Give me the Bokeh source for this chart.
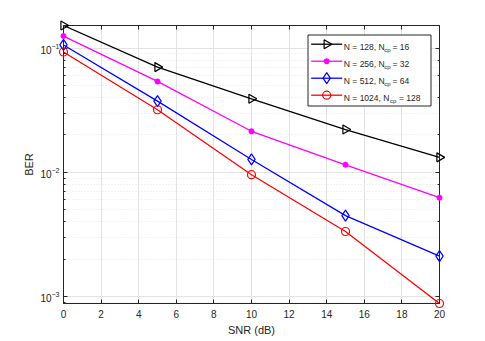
import math
from bokeh.plotting import figure
from bokeh.models import (Range1d, FixedTicker, LinearAxis, LogAxis, Label, CustomJSTickFormatter)
from bokeh.embed import file_html
from bokeh.resources import INLINE

snr = [0, 5, 10, 15, 20]
ber_128 = [0.152, 0.0703, 0.0391, 0.0221, 0.0132]
ber_256 = [0.125, 0.0539, 0.0214, 0.0115, 0.00625]
ber_512 = [0.106, 0.0374, 0.0127, 0.00448, 0.00212]
ber_1024 = [0.093, 0.0319, 0.00957, 0.00334, 0.00088]
x_ticks = [0, 2, 4, 6, 8, 10, 12, 14, 16, 18, 20]
legend_main = ["N = 128, N", "N = 256, N", "N = 512, N", "N = 1024, N"]
legend_sub = ["cp", "cp", "cp", "cp"]
legend_tail = ["= 16", "= 32", "= 64", "= 128"]

FONT = "Liberation Sans"
AX = "#262626"
X0, X1, Y0, Y1 = 0, 20, 0.00088, 0.152
FW, FH = 376, 278

p = figure(frame_width=FW, frame_height=FH, y_axis_type="log",
           x_range=Range1d(X0, X1), y_range=Range1d(Y0, Y1),
           output_backend="svg", toolbar_location=None,
           min_border_left=63, min_border_top=25, min_border_right=30, min_border_bottom=10)
p.background_fill_color = "white"
p.border_fill_color = "white"
p.outline_line_color = AX

# axes
p.xaxis.ticker = FixedTicker(ticks=x_ticks)
for ax in p.xaxis + p.yaxis:
    ax.axis_line_color = AX
    ax.major_tick_line_color = AX
    ax.minor_tick_line_color = AX
    ax.major_tick_in = 4
    ax.major_tick_out = 0
    ax.minor_tick_in = 2
    ax.minor_tick_out = 0
    ax.major_label_text_font = FONT
    ax.major_label_text_font_size = "10px"
    ax.major_label_text_color = AX
    ax.axis_label_text_font = FONT
    ax.axis_label_text_font_size = "11px"
    ax.axis_label_text_font_style = "normal"
    ax.axis_label_text_color = AX
p.xaxis.minor_tick_line_color = None
p.xaxis.axis_label = "SNR (dB)"
p.yaxis.axis_label = "BER"
p.xaxis.major_label_standoff = 6
p.xaxis.axis_label_standoff = 3
p.yaxis.major_label_standoff = 4
p.yaxis.axis_label_standoff = 2

top = LinearAxis(ticker=FixedTicker(ticks=x_ticks), formatter=CustomJSTickFormatter(code="return ''"))
right = LogAxis(formatter=CustomJSTickFormatter(code="return ''"))
for ax in (top, right):
    ax.axis_line_color = AX
    ax.major_tick_line_color = AX
    ax.minor_tick_line_color = AX
    ax.major_tick_in = 4
    ax.major_tick_out = 0
    ax.minor_tick_in = 2
    ax.minor_tick_out = 0
    ax.major_label_standoff = 0
top.minor_tick_line_color = None
p.add_layout(top, "above")
p.add_layout(right, "right")

# grids
p.xgrid.grid_line_color = "#e3e3e3"
p.ygrid.grid_line_color = "#e3e3e3"
p.ygrid.minor_grid_line_color = "#e6e6e6"
p.ygrid.minor_grid_line_dash = "1 2"


def px_to_data(px, py):
    """page pixel -> data coordinates (frame: left 63, top 25)"""
    fx = (px - 63) / FW
    fy = (py - 25) / FH
    x = X0 + fx * (X1 - X0)
    ly = math.log10(Y1) - fy * (math.log10(Y1) - math.log10(Y0))
    return x, 10 ** ly


series = [
    (ber_128, "black", "triangle", -math.pi / 2, 9, 1.2),
    (ber_256, "#ff00ff", "asterisk", 0, 6, 1.8),
    (ber_512, "#0000ff", "diamond", 0, 11, 1.2),
    (ber_1024, "#ff0000", "circle", 0, 8, 1.2),
]
for ys, col, mk, ang, sz, lw in series:
    p.line(snr, ys, line_color=col, line_width=1.3)
    fill = col if mk == "asterisk" else None
    p.scatter(snr, ys, marker=mk, size=sz, angle=ang, line_color=col,
              fill_color=fill, line_width=lw, level="overlay")

# legend box (drawn as glyphs so that its samples sit on top)
bl, bt = px_to_data(307.5, 34.5)
br, bb = px_to_data(430.5, 105.5)
p.quad(left=[bl], right=[br], top=[bt], bottom=[bb], fill_color="white",
       line_color=AX, line_width=1, level="overlay")

row_y = [43.7, 60.7, 77.7, 94.7]
sub_x = [383.7, 383.7, 383.7, 389.6]
tail_x = [392.0, 392.0, 392.0, 398.5]
for i, (ys, col, mk, ang, sz, lw) in enumerate(series):
    fill = col if mk == "asterisk" else None
    lx0, ly = px_to_data(310.7, row_y[i])
    lx1, _ = px_to_data(341.7, row_y[i])
    mx, _ = px_to_data(326.2, row_y[i])
    p.line([lx0, lx1], [ly, ly], line_color=col, line_width=1.3, level="overlay")
    p.scatter([mx], [ly], marker=mk, size=sz, angle=ang, line_color=col,
              fill_color=fill, line_width=lw, level="overlay")
    base = row_y[i] + 3.2
    x, y = px_to_data(343.3, base)
    p.add_layout(Label(x=x, y=y, text=legend_main[i], text_font=FONT, text_font_size="8.5px",
                       text_color=AX, text_baseline="alphabetic", level="overlay"))
    x, y = px_to_data(sub_x[i], base + 2.5)
    p.add_layout(Label(x=x, y=y, text=legend_sub[i], text_font=FONT, text_font_size="6px",
                       text_color=AX, text_baseline="alphabetic", level="overlay"))
    x, y = px_to_data(tail_x[i], base)
    p.add_layout(Label(x=x, y=y, text=legend_tail[i], text_font=FONT, text_font_size="8.5px",
                       text_color=AX, text_baseline="alphabetic", level="overlay"))

open("out.html", "w").write(file_html(p, INLINE))
